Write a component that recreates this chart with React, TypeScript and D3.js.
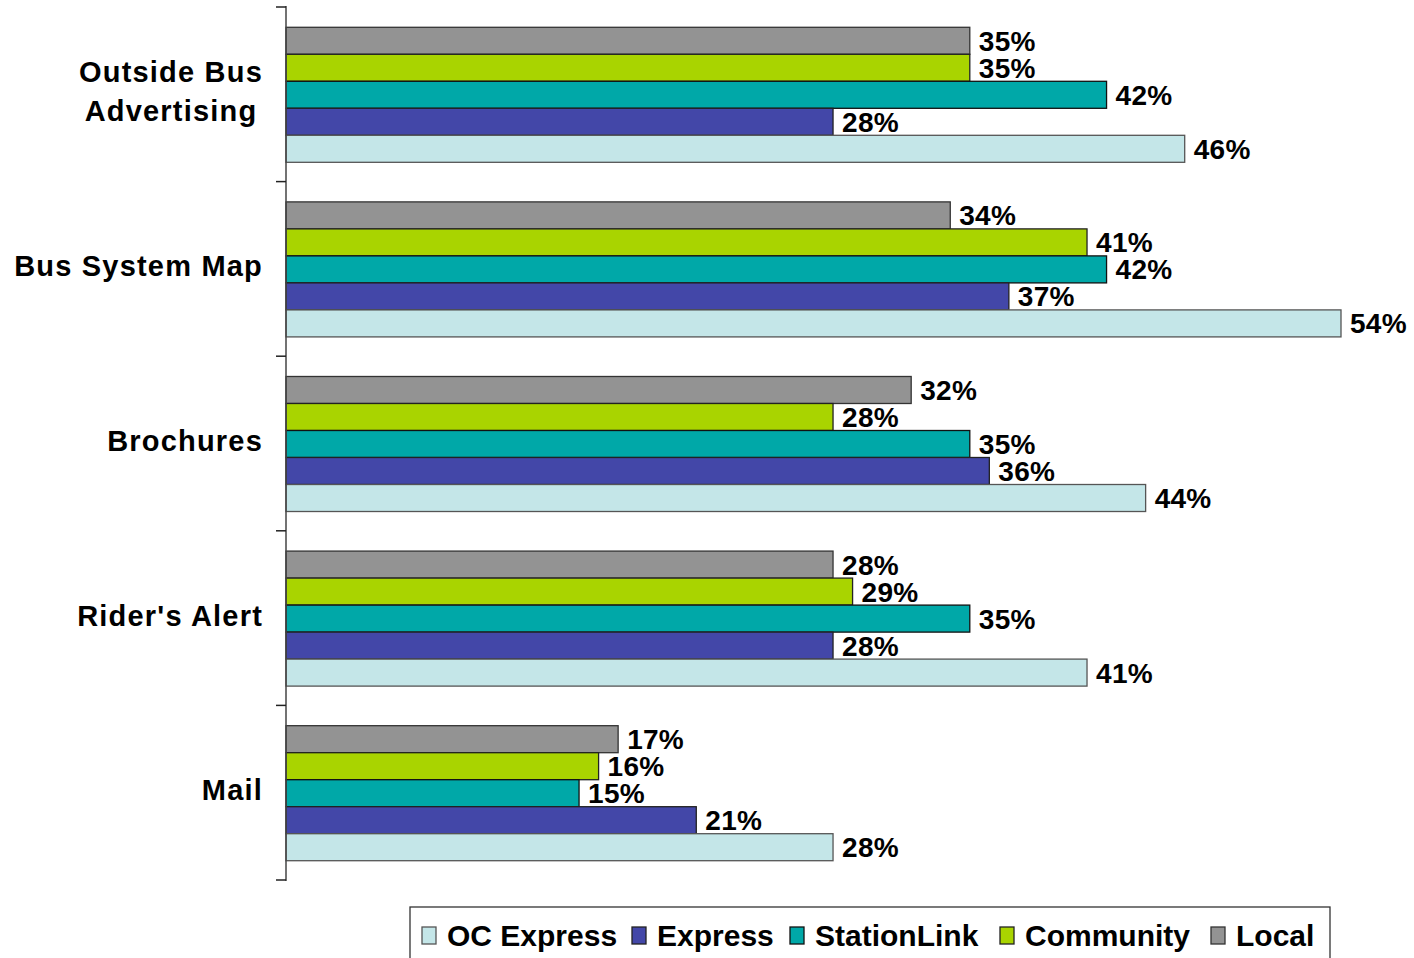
import React, { useEffect, useRef } from "react";
import * as d3 from "d3";

const categories = ["Outside Bus\nAdvertising", "Bus System Map", "Brochures", "Rider's Alert", "Mail"];
const seriesNames = ["Local", "Community", "StationLink", "Express", "OC Express"];
const legendOrder = ["OC Express", "Express", "StationLink", "Community", "Local"];
const localVals = [35, 34, 32, 28, 17];
const communityVals = [35, 41, 28, 29, 16];
const stationLinkVals = [42, 42, 35, 35, 15];
const expressVals = [28, 37, 36, 28, 21];
const ocExpressVals = [46, 54, 44, 41, 28];
const colors: Record<string, string> = {
  Local: "#939393",
  Community: "#a9d400",
  StationLink: "#00a8a8",
  Express: "#4347a8",
  "OC Express": "#c4e6e8",
};
const strokes: Record<string, string> = {
  Local: "#333",
  Community: "#222",
  StationLink: "#111",
  Express: "#222",
  "OC Express": "#555",
};

const W = 1414;
const H = 958;

export default function App() {
  const ref = useRef<SVGSVGElement | null>(null);
  useEffect(() => {
    const svg = d3.select(ref.current);
    svg.selectAll("*").remove();
    const font = "'Liberation Sans', Arial, sans-serif";
    const valuesBySeries: Record<string, number[]> = {
      Local: localVals,
      Community: communityVals,
      StationLink: stationLinkVals,
      Express: expressVals,
      "OC Express": ocExpressVals,
    };
    const x = d3.scaleLinear().domain([0, 54]).range([286, 1341]);
    const y = d3.scaleBand<string>().domain(categories).range([7, 880]).padding(0);
    const inner = d3
      .scaleBand<string>()
      .domain(seriesNames)
      .range([0, y.bandwidth()])
      .paddingInner(0)
      .paddingOuter(0.733);

    const g = svg.append("g");
    categories.forEach((cat, ci) => {
      const y0 = y(cat)!;
      seriesNames.forEach((s) => {
        const v = valuesBySeries[s][ci];
        const by = y0 + inner(s)! + 0.5;
        g.append("rect")
          .attr("x", x(0))
          .attr("y", by)
          .attr("width", x(v) - x(0))
          .attr("height", inner.bandwidth())
          .attr("fill", colors[s])
          .attr("stroke", strokes[s])
          .attr("stroke-width", 1.3);
        g.append("text")
          .attr("x", x(v) + 9)
          .attr("y", by + inner.bandwidth() / 2)
          .attr("dy", "0.36em")
          .attr("font-family", font)
          .attr("font-weight", "bold")
          .attr("font-size", 28)
          .attr("letter-spacing", 0.3)
          .attr("fill", "#000")
          .text(`${v}%`);
      });
      // category label
      const lines = cat.split("\n");
      const cy = y0 + y.bandwidth() / 2 - 3;
      const lh = 39;
      const tg = svg.append("g");
      const texts = lines.map((ln, li) =>
        tg
          .append("text")
          .attr("y", cy + (li - (lines.length - 1) / 2) * lh)
          .attr("dy", "0.36em")
          .attr("font-family", font)
          .attr("font-weight", "bold")
          .attr("font-size", 29)
          .attr("letter-spacing", 1.2)
          .attr("text-anchor", "middle")
          .text(ln)
      );
      const widths = texts.map((t) => (t.node() as SVGTextElement).getComputedTextLength());
      const maxW = d3.max(widths) || 0;
      texts.forEach((t) => t.attr("x", 263 - maxW / 2));
    });

    // axis
    svg
      .append("line")
      .attr("x1", 286)
      .attr("x2", 286)
      .attr("y1", 6)
      .attr("y2", 881)
      .attr("stroke", "#444")
      .attr("stroke-width", 1.5);
    const ticks = y.domain().map((d) => y(d)!).concat([y.range()[1]]);
    ticks.forEach((ty) => {
      svg
        .append("line")
        .attr("x1", 276)
        .attr("x2", 286)
        .attr("y1", ty)
        .attr("y2", ty)
        .attr("stroke", "#222")
        .attr("stroke-width", 1.5);
    });

    // legend
    const lg = svg.append("g");
    lg.append("rect")
      .attr("x", 410)
      .attr("y", 907)
      .attr("width", 920)
      .attr("height", 70)
      .attr("fill", "#fff")
      .attr("stroke", "#333")
      .attr("stroke-width", 1.3);
    const legendX = [422, 632, 790, 1000, 1211];
    legendOrder.forEach((s, i) => {
      lg.append("rect")
        .attr("x", legendX[i])
        .attr("y", 927)
        .attr("width", 14)
        .attr("height", 17)
        .attr("fill", colors[s])
        .attr("stroke", strokes[s])
        .attr("stroke-width", 1.3);
      lg.append("text")
        .attr("x", legendX[i] + 25)
        .attr("y", 946)
        .attr("font-family", font)
        .attr("font-weight", "bold")
        .attr("font-size", 30)
        .attr("fill", "#000")
        .text(s);
    });
  }, []);
  return (
    <div style={{ position: "absolute", left: 0, top: 0 }}>
      <svg ref={ref} width={W} height={H} style={{ display: "block", background: "#fff" }} />
    </div>
  );
}
